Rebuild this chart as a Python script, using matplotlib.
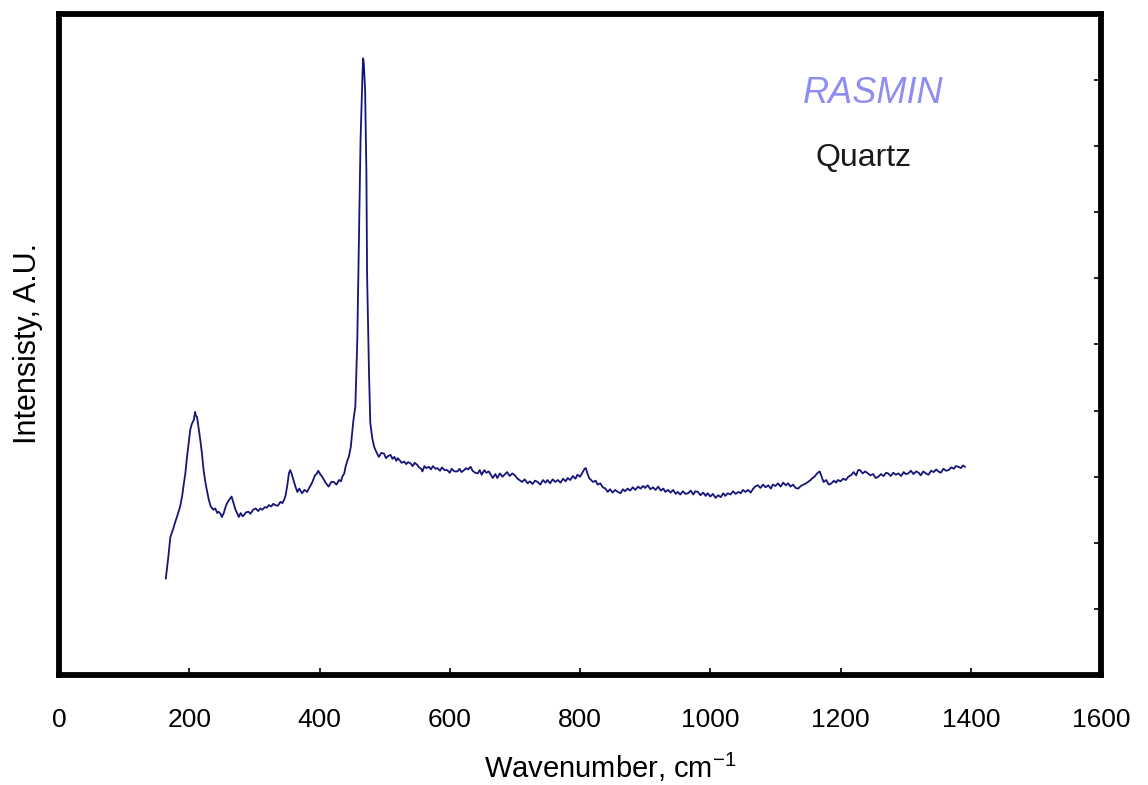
"""Raman spectrum of quartz (RASMIN) redrawn with matplotlib."""

from __future__ import annotations

import matplotlib

matplotlib.use("Agg")
import matplotlib.pyplot as plt  # noqa: E402

# Spectrum (wavenumber in cm^-1, intensity in A.U.).
WAVENUMBER = [
    164, 168, 171, 175, 178, 182, 186, 189, 191, 194, 196, 199, 201.5, 204, 207, 209,
    210, 212, 214, 217, 219.5, 222, 225, 228, 230, 233, 237, 240, 243, 245, 248, 250,
    253, 256, 258, 262, 265, 268, 271, 274, 276, 279, 282, 284, 287, 291, 294, 298,
    302, 306, 309, 312, 316, 319, 322, 326, 329, 332, 336, 340, 343, 346, 348, 351,
    353, 355, 357, 360, 363, 366, 369, 373, 377, 381, 384, 387, 389, 393, 396, 398,
    401, 404, 407, 410, 414, 418, 422, 426, 430, 433, 435, 438, 440, 443, 445, 448,
    450, 452, 455, 458, 460.5, 463, 466, 467, 468, 470, 472, 473, 476, 478, 481, 484,
    487, 491, 495, 499, 502, 505, 509, 512, 515, 518, 520, 523, 526, 530, 533, 536,
    540, 543, 546, 550, 553, 556, 558, 561, 564, 568, 571, 574, 578, 581, 585, 588,
    592, 596, 600, 603, 607, 612, 615, 618, 622, 625, 628, 632, 635, 639, 643, 646,
    649, 653, 656, 660, 663, 666, 670, 673, 677, 681, 684, 688, 692, 696, 700, 704,
    707, 711, 715, 719.5, 723, 727, 731, 735, 739, 743, 747, 750, 754, 758, 762, 766,
    770, 774, 778, 781, 785, 789, 793, 796, 800, 804, 807, 809, 811, 814, 817, 820,
    824, 827, 831, 835, 839, 842.5, 846, 850, 854, 858, 862, 866, 869, 873, 877, 881,
    885, 889, 893, 897, 900, 904, 908, 912, 916, 920, 924, 928, 931, 935, 939, 943,
    947, 950, 954, 958, 962, 966, 970, 974, 977, 981, 985, 989, 993, 996, 1000, 1004,
    1008, 1012, 1016, 1020, 1023, 1027, 1031, 1035, 1039, 1043, 1047, 1050, 1054, 1058, 1062, 1066,
    1070, 1073, 1077, 1081, 1085, 1089, 1093, 1096, 1100, 1104, 1108, 1112, 1116, 1119.5, 1123, 1127,
    1131, 1135, 1139, 1143, 1147, 1150, 1154, 1157, 1160, 1164, 1168, 1171, 1174, 1178, 1182, 1186,
    1190, 1193, 1196, 1200, 1204, 1208, 1212, 1217, 1220, 1224, 1227, 1230, 1234, 1238, 1242, 1246,
    1250, 1254, 1258, 1262, 1266, 1270, 1273, 1277, 1281, 1285, 1289, 1293, 1297, 1300, 1304, 1308,
    1312, 1316, 1320, 1323, 1327, 1331, 1335, 1339, 1343, 1347, 1350, 1354, 1358, 1362, 1366, 1370,
    1374, 1377, 1381, 1385, 1388, 1391,
]
INTENSITY = [
    1.46, 1.80, 2.09, 2.20, 2.30, 2.42, 2.55, 2.70, 2.85, 3.05, 3.25, 3.50, 3.71, 3.80, 3.86, 3.98,
    3.93, 3.90, 3.76, 3.55, 3.35, 3.10, 2.90, 2.75, 2.65, 2.55, 2.50, 2.52, 2.45, 2.47, 2.44, 2.39,
    2.45, 2.55, 2.60, 2.66, 2.70, 2.60, 2.50, 2.44, 2.39, 2.45, 2.40, 2.42, 2.46, 2.47, 2.44, 2.50,
    2.52, 2.48, 2.52, 2.50, 2.54, 2.53, 2.57, 2.55, 2.59, 2.57, 2.56, 2.62, 2.60, 2.66, 2.72, 2.90,
    3.05, 3.10, 3.05, 2.95, 2.85, 2.77, 2.82, 2.75, 2.80, 2.77, 2.83, 2.88, 2.92, 3.02, 3.05, 3.09,
    3.04, 3.00, 2.95, 2.90, 2.85, 2.92, 2.92, 2.88, 2.95, 2.93, 3.00, 3.05, 3.15, 3.25, 3.30, 3.45,
    3.65, 3.85, 4.06, 5.07, 6.58, 8.09, 9.10, 9.33, 9.25, 8.85, 7.59, 6.08, 4.56, 3.81, 3.58, 3.45,
    3.38, 3.30, 3.36, 3.35, 3.28, 3.31, 3.33, 3.27, 3.30, 3.24, 3.28, 3.25, 3.21, 3.23, 3.19, 3.22,
    3.20, 3.16, 3.21, 3.18, 3.14, 3.12, 3.08, 3.16, 3.13, 3.15, 3.11, 3.16, 3.12, 3.13, 3.09, 3.14,
    3.10, 3.10, 3.06, 3.12, 3.08, 3.08, 3.12, 3.07, 3.10, 3.13, 3.11, 3.15, 3.09, 3.06, 3.05, 3.10,
    3.03, 3.10, 3.06, 3.08, 3.03, 2.98, 3.04, 2.98, 3.05, 3.00, 3.03, 3.07, 3.01, 3.05, 3.02, 2.97,
    2.95, 2.92, 2.96, 2.90, 2.93, 2.89, 2.94, 2.92, 2.88, 2.95, 2.91, 2.95, 2.90, 2.96, 2.92, 2.95,
    2.91, 2.97, 2.93, 2.98, 2.95, 3.01, 2.97, 3.03, 3.00, 3.07, 3.12, 3.13, 3.06, 2.98, 2.95, 2.92,
    2.94, 2.88, 2.90, 2.84, 2.82, 2.77, 2.81, 2.76, 2.80, 2.77, 2.75, 2.81, 2.78, 2.82, 2.79, 2.84,
    2.80, 2.85, 2.82, 2.86, 2.83, 2.87, 2.81, 2.84, 2.80, 2.85, 2.79, 2.82, 2.77, 2.80, 2.76, 2.80,
    2.74, 2.77, 2.73, 2.78, 2.74, 2.75, 2.79, 2.73, 2.78, 2.77, 2.72, 2.76, 2.71, 2.75, 2.70, 2.74,
    2.68, 2.72, 2.69, 2.75, 2.71, 2.75, 2.73, 2.78, 2.74, 2.77, 2.75, 2.80, 2.77, 2.80, 2.76, 2.82,
    2.86, 2.87, 2.83, 2.88, 2.84, 2.87, 2.82, 2.88, 2.86, 2.90, 2.85, 2.91, 2.87, 2.90, 2.85, 2.88,
    2.83, 2.82, 2.86, 2.88, 2.90, 2.92, 2.95, 2.98, 3.00, 3.05, 3.08, 3.00, 2.92, 2.95, 2.88, 2.90,
    2.94, 2.91, 2.95, 2.93, 2.97, 2.95, 3.00, 3.03, 3.07, 3.02, 3.10, 3.10, 3.05, 3.08, 3.05, 3.02,
    3.04, 2.98, 3.00, 3.04, 3.01, 3.06, 3.05, 3.01, 3.06, 3.03, 3.05, 3.01, 3.07, 3.04, 3.05, 3.09,
    3.04, 3.08, 3.06, 3.02, 3.08, 3.05, 3.03, 3.09, 3.07, 3.11, 3.08, 3.06, 3.12, 3.09, 3.10, 3.14,
    3.12, 3.16, 3.15, 3.13, 3.17, 3.15,
]
X_TICKS = [0, 200, 400, 600, 800, 1000, 1200, 1400, 1600]
Y_TICKS = [1, 2, 3, 4, 5, 6, 7, 8, 9]

LINE_COLOR = "#15157a"
BRAND_COLOR = "#8d8df2"
FONT = ["Liberation Sans", "DejaVu Sans"]


def main() -> None:
    plt.rcParams["font.family"] = FONT
    plt.rcParams["mathtext.fontset"] = "custom"
    plt.rcParams["mathtext.rm"] = "Liberation Sans"

    figure = plt.figure(figsize=(11.48, 7.85), dpi=100)
    axis = figure.add_axes([0.0514, 0.1401, 0.9077, 0.8421])

    axis.plot(WAVENUMBER, INTENSITY, color=LINE_COLOR, linewidth=1.3)
    axis.set_xlim(0, 1600)
    axis.set_ylim(0, 10)

    for spine in axis.spines.values():
        spine.set_linewidth(4.2)
        spine.set_color("black")

    axis.set_xticks(X_TICKS)
    axis.tick_params(
        axis="x",
        direction="in",
        length=5,
        width=1.2,
        pad=24,
        labelsize=19,
    )
    axis.set_yticks(Y_TICKS)
    axis.tick_params(
        axis="y",
        direction="in",
        length=5,
        width=1.2,
        left=False,
        right=True,
        labelleft=False,
        labelright=False,
    )

    figure.text(
        0.532,
        0.009,
        "Wavenumber, cm$^{-1}$",
        ha="center",
        va="baseline",
        fontsize=21,
    )
    figure.text(
        0.024,
        0.563,
        "Intensisty, A.U.",
        rotation=90,
        ha="center",
        va="center",
        fontsize=22,
    )
    axis.text(
        0.7140,
        0.880,
        "RASMIN",
        transform=axis.transAxes,
        ha="left",
        va="center",
        fontsize=26,
        fontstyle="italic",
        color=BRAND_COLOR,
    )
    axis.text(
        0.7255,
        0.7825,
        "Quartz",
        transform=axis.transAxes,
        ha="left",
        va="center",
        fontsize=23,
        color="#1a1a1a",
    )

    figure.savefig("out.png", dpi=100)
    plt.close(figure)


if __name__ == "__main__":
    main()
